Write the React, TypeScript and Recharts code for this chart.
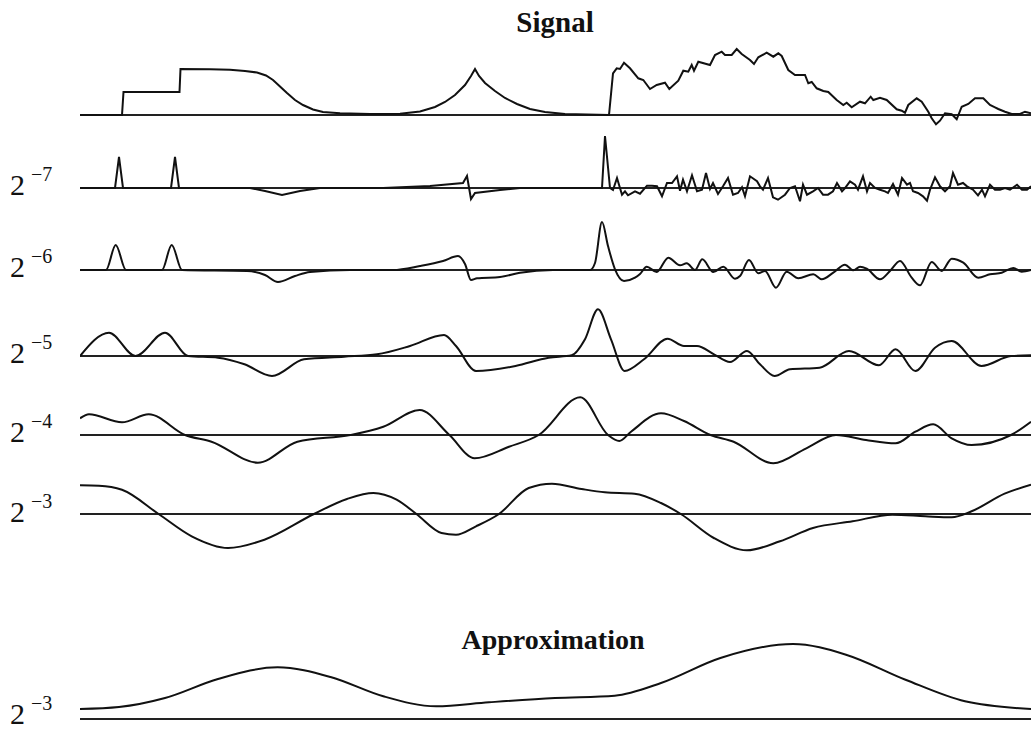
import React from 'react';
import { LineChart, Line, XAxis, YAxis, ReferenceLine } from 'recharts';

// t = position along the signal (0..951), v = amplitude above the row's zero line
const signal: [number, number][] = [
  [0, 0], [42, 0], [43.5, 23], [99.5, 23], [100.5, 46], [130, 45.8], [150, 45.3], [165, 44], [177, 42.5],
  [186, 39.5], [193, 35], [200, 28.5], [207, 22], [215, 15], [223, 10], [233, 5.5], [243, 3], [260, 1.7],
  [290, 1], [320, 1.2], [340, 3.5], [355, 8], [365, 13], [375, 20], [385, 30], [391, 39], [395, 46], [399, 39],
  [405, 32], [415, 24], [425, 17], [437, 11], [450, 6], [465, 3], [485, 1], [529, 0],
  [533, 41.7], [536.7, 46.7], [540, 46], [544, 52.3], [550, 46.7], [558.3, 36.7], [563.3, 35],
  [570, 26], [576.7, 30], [585, 32.3], [589.3, 26], [598.3, 34.3], [603.3, 44.3], [608.3, 43.3], [611.7, 50],
  [614, 44.3], [618.3, 53.3], [630, 50], [635, 60], [641.7, 63.3], [645, 60], [651.7, 60], [656.7, 66], [661.7, 61],
  [670, 55], [674, 51], [678.3, 57.7], [686.7, 62.3], [693.3, 58.3], [698.3, 61.7], [701.7, 59], [708.3, 45],
  [715, 40], [725, 40], [728.3, 31.7], [731.7, 33], [736.7, 26.7], [743.3, 24], [748.3, 23], [756.7, 15],
  [763.3, 10], [766.7, 12.3], [771.7, 7.7], [780, 13.3], [785, 11.7], [790.7, 18.3], [793.3, 15], [800, 17.3],
  [806.7, 15], [816.7, 5.7], [821.7, 4.3], [825, 2.3], [828.3, 10], [836.7, 16.7], [841.7, 13.3], [848.3, 3.3],
  [851.7, -3.3], [856, -9.3], [860, -5.7], [865, 1.7], [871.7, 0.7], [876.7, -4.3], [881.7, 8.3], [888.3, 11],
  [895, 16.7], [903.3, 16.7], [910, 10], [915, 7.7], [918.3, 6], [925, 3.3], [931.7, 1], [940, 1], [945, 3.3], [951, 1.7],
];

const detail7: [number, number][] = [
  [0, 0], [35, 0], [39, 31], [43, 0], [91, 0], [95, 31], [99, 0], [170, 0], [185, -3], [202, -7], [220, -3],
  [240, 0], [303, 0], [350, 2], [383, 5], [387, 12], [391, -11], [395, -5], [420, -2], [440, 0], [522, 0],
  [525, 52], [530, 0], [533, -2], [537, 10], [542, -6.7], [545, -3.3], [548, -7.3], [555, -3.3], [560, -5.7],
  [567, 2.3], [572, 2.3], [577, 1.7], [582, -8.3], [587, 5], [592, 5], [597, 11.7], [600, -2.7], [603, 8.3],
  [607, -3.3], [612, 12.7], [617, -3.3], [622, -1.7], [626, 15], [630, -1], [633, 5], [638, -6], [643, 1.7],
  [648, 10], [653, -6.7], [658, -5], [662, 0.7], [665, -8.3], [670, 11.7], [677, 6.7], [680, 1.7], [683, -1.7],
  [688, 10], [693, -9.3], [698, -11.7], [705, -6.7], [710, 0], [715, 1.7], [720, -13.3], [723, 3.3], [727, -6.7],
  [733, -3.3], [738, 0], [743, -6.7], [748, -6.7], [753, -3.3], [757, 5], [762, -3.3], [765, 0], [770, 6.7],
  [775, 3.3], [778, -1.7], [783, 11.7], [787, -3.3], [790, 5], [795, 0], [800, -1.7], [805, -3.3], [808, -5],
  [813, 4], [818, -6.7], [822, 10], [827, 3.3], [830, 5], [833, -3.3], [838, -5], [843, -8.3], [847, -12.7],
  [850, -1.7], [855, 10.7], [860, 1.7], [865, -3.3], [870, 1.7], [873, 15], [878, 3.3], [883, 5], [887, 1.7],
  [893, -1.7], [898, -7.3], [902, -1.7], [905, -8.3], [910, 3.3], [915, -1.7], [920, -1.7], [925, 0], [930, -1.7],
  [937, 3.3], [942, -1.7], [947, -1.7], [951, 1.7],
];

const detail6: [number, number][] = [
  [0, 0], [26, 0], [35.7, 25], [46, 0], [82, 0], [91.7, 25], [102, 0], [167, -1], [185, -5], [198, -12], [215, -6],
  [230, -2], [270, 0], [313, 0], [340, 4], [363, 9], [378, 14], [385, 6], [391, -10], [397, -8.3], [420, -7],
  [440, -2.7], [473, 0], [510, 0], [515, 7], [522, 48], [528, 24], [535, 0.7], [544, -11], [555, -7.7], [560, -4],
  [566.7, 3.3], [576.7, -2], [588.3, 12.3], [600, 4.7], [606.7, 6.7], [615, 0], [622.3, 10.7], [633.3, -2],
  [643.3, 3.3], [655, -8.7], [660, -6], [669, 10], [678.3, -3.3], [685, -1], [696, -17.7], [706.7, -1.7],
  [718.3, -8.3], [733.3, -4.3], [741.7, -9.3], [753.3, -2.7], [765, 5.3], [773.3, -0.3], [780, 3.3], [786.7, 1.3],
  [800, -9.3], [810, -1], [820, 9], [831.7, -7.7], [840, -15.3], [851.7, 8], [861.7, -1], [871.7, 11.3],
  [883.3, 7.3], [898.3, -7.7], [910, -4.3], [921.7, -2.7], [933.3, 2], [941.7, -1.7], [951, 0],
];

const detail5: [number, number][] = [
  [0, 0], [29, 23.3], [55.5, 0], [85, 23.3], [108, 0], [138, -1.7], [164.5, -8.3], [192, -20], [224, -3.3],
  [264, -0.7], [297, 1.7], [330, 10], [364, 21], [376, 10], [396, -15], [435.5, -10], [468.6, -1.7], [491.7, 0.7],
  [505, 16.7], [518, 46.7], [531, 16.7], [544.6, -15], [564, -3.3], [587.5, 17.3], [604, 10], [617, 10],
  [634, 1.7], [650, -6], [667, 5], [680, -8.3], [694.6, -20], [710, -13.3], [739.6, -11.7], [769, 5],
  [799, -9.3], [815.6, 6.7], [835.4, -15], [855, 8.3], [871.7, 15], [901.5, -10], [931, 0], [951, 0.7],
];

const detail4: [number, number][] = [
  [0, 16.7], [9, 20.7], [42, 12.7], [68.7, 20.7], [105, 0], [131.5, -6.7], [177.8, -27.7], [217.4, -6.7],
  [270.3, 0], [303.3, 8.3], [339.7, 25], [369.4, 0], [394.6, -23.3], [429, -11.7], [458.7, 0], [500.3, 37.7],
  [528, 0], [539.3, -6], [551, 3.3], [581, 21.7], [604, 14], [630.5, 0], [653.6, -6.7], [693.3, -28.3],
  [726.3, -13.3], [756, 0], [786, -5], [815.6, -8.3], [835.4, 3.3], [853.2, 10.7], [871.7, -3.3], [891.6, -10],
  [931, 0], [951, 13.3],
];

const detail3: [number, number][] = [
  [0, 28.7], [19, 28.3], [42, 24.3], [78.6, 0], [111.7, -22.3], [148, -34], [184.4, -25.7], [234, 0], [267, 15],
  [293.4, 21], [316.6, 14.3], [336.4, 0], [361.5, -19], [376, -20.7], [396, -12.3], [419, 0], [448.7, 26],
  [471.9, 30.3], [501.6, 25], [524.8, 21.7], [554.5, 20.3], [581, 11], [600.8, 0], [633.8, -24], [666.9, -36.3],
  [700, -27.3], [733, -14], [772.6, -7.3], [812.3, -0.7], [845.3, -2.3], [871.7, -3.3], [891.6, 2.7],
  [924.6, 20.3], [951, 29.3],
];

const approx3: [number, number][] = [
  [0, 10], [39, 12], [85, 21], [138, 40], [197.6, 51.7], [250.5, 42], [303.3, 22.7], [356.2, 12.7], [409, 16.7],
  [475, 21], [534.7, 23.3], [581, 36], [640.4, 61], [713, 75], [766, 64.3], [825.5, 39.3], [885, 17.7], [951, 10],
];

const SPAN = 951;
const INK = '#111';

type Row = {
  data: [number, number][];
  base: number;
  lo: number;
  hi: number;
  curve: 'linear' | 'monotone';
  exp?: string;
  labelDy?: number;
};

const rows: Row[] = [
  { data: signal, base: 115, lo: -15, hi: 75, curve: 'linear' },
  { data: detail7, base: 188, lo: -20, hi: 60, curve: 'linear', exp: '−7', labelDy: 7 },
  { data: detail6, base: 270, lo: -25, hi: 55, curve: 'monotone', exp: '−6', labelDy: 7 },
  { data: detail5, base: 356, lo: -25, hi: 55, curve: 'monotone', exp: '−5', labelDy: 7 },
  { data: detail4, base: 435, lo: -35, hi: 45, curve: 'monotone', exp: '−4', labelDy: 7 },
  { data: detail3, base: 514, lo: -40, hi: 40, curve: 'monotone', exp: '−3', labelDy: 8 },
  { data: approx3, base: 719, lo: -5, hi: 85, curve: 'monotone', exp: '−3', labelDy: 5 },
];

function Trace({ row }: { row: Row }) {
  const pts = row.data.map(([t, v]) => ({ t, v }));
  return (
    <div style={{ position: 'absolute', left: 80, top: row.base - row.hi }}>
      <LineChart width={SPAN} height={row.hi - row.lo} data={pts} margin={{ top: 0, right: 0, bottom: 0, left: 0 }}>
        <XAxis dataKey="t" type="number" domain={[0, SPAN]} hide />
        <YAxis type="number" domain={[row.lo, row.hi]} hide allowDataOverflow />
        <ReferenceLine y={0} stroke="#222" strokeWidth={2} />
        <Line
          type={row.curve}
          dataKey="v"
          stroke={INK}
          strokeWidth={2}
          dot={false}
          isAnimationActive={false}
        />
      </LineChart>
    </div>
  );
}

export default function App() {
  return (
    <div style={{ position: 'relative', width: 1031, height: 731, overflow: 'hidden', background: '#fff' }}>
      <style>{'body{margin:0}'}</style>
      {rows.map((r, i) => <Trace key={i} row={r} />)}
      <svg width={1031} height={731} style={{ position: 'absolute', left: 0, top: 0, pointerEvents: 'none' }}>
        <g fontFamily="'Liberation Serif', serif" fill={INK}>
          <text x={555} y={32} textAnchor="middle" fontSize={29} fontWeight={700}>Signal</text>
          <text x={553} y={649} textAnchor="middle" fontSize={28} fontWeight={700}>Approximation</text>
          {rows.filter(r => r.exp).map((r, i) => (
            <text key={i} x={10} y={r.base + (r.labelDy ?? 7)} fontSize={30}>
              2
              <tspan dx={6} dy={-14} fontSize={20}>{r.exp}</tspan>
            </text>
          ))}
        </g>
      </svg>
    </div>
  );
}
